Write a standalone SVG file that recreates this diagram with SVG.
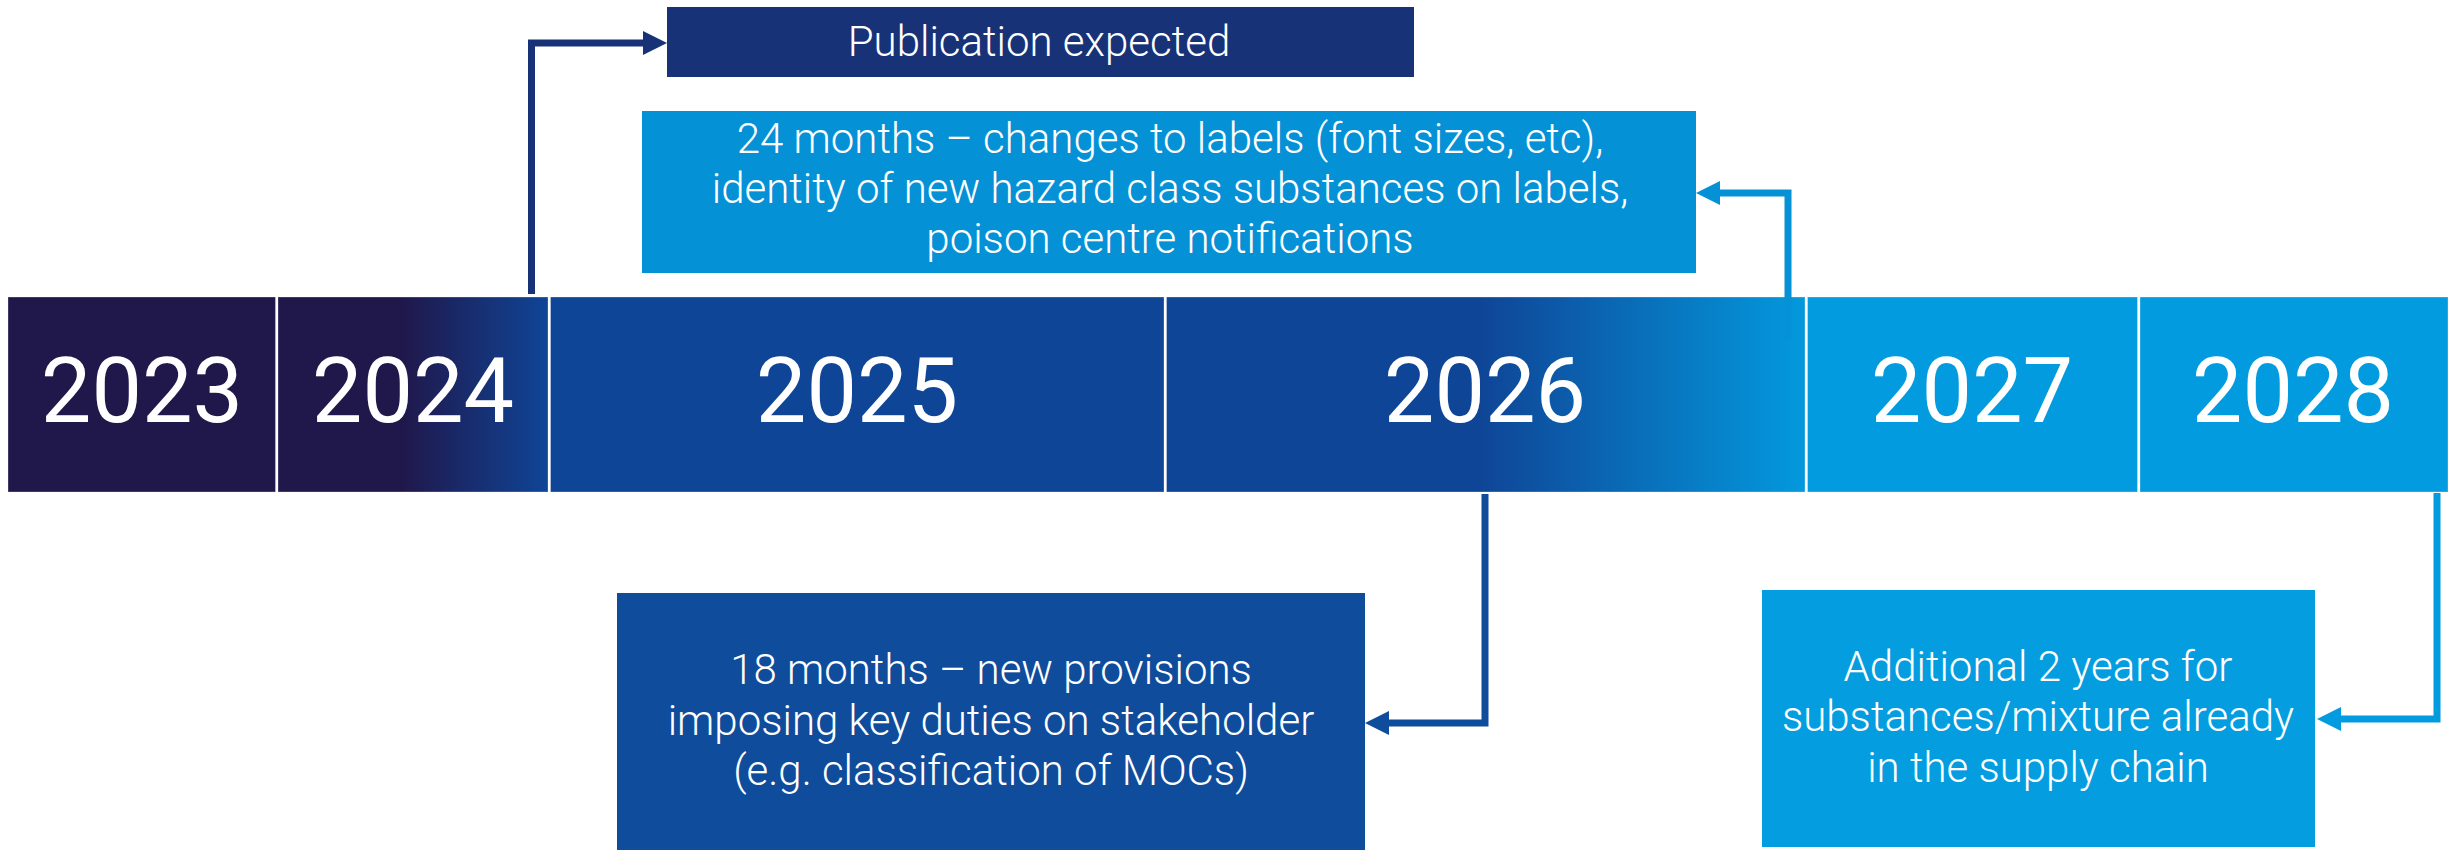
<svg xmlns="http://www.w3.org/2000/svg" width="2451" height="850" viewBox="0 0 2451 850">
  <style>
    .year { font-family: Roboto, "Liberation Sans", sans-serif; font-size: 90px; font-weight: 400; fill: #ffffff; text-anchor: middle; }
    .note { font-family: Roboto, "Liberation Sans", sans-serif; font-size: 42px; font-weight: 300; fill: #ffffff; text-anchor: middle; }
    .cell { stroke: #ffffff; stroke-opacity: 0.3; stroke-width: 1; }
    .link { fill: none; stroke-width: 7; stroke-linejoin: miter; stroke-linecap: butt; }
  </style>
  <defs>
    <linearGradient id="grad2024" gradientUnits="userSpaceOnUse" x1="400" y1="0" x2="549" y2="0">
      <stop offset="0" stop-color="#20174a"/>
      <stop offset="1" stop-color="#0f4597"/>
    </linearGradient>
    <linearGradient id="grad2026" gradientUnits="userSpaceOnUse" x1="1480" y1="0" x2="1805" y2="0">
      <stop offset="0" stop-color="#0f4597"/>
      <stop offset="1" stop-color="#0399dd"/>
    </linearGradient>
    <marker id="headNavy" viewBox="0 0 24 24" refX="6" refY="12" markerWidth="24" markerHeight="24" markerUnits="userSpaceOnUse" orient="auto">
      <path d="M0,0 L24,12 L0,24 Z" fill="#183277"/>
    </marker>
    <marker id="headSky" viewBox="0 0 24 24" refX="6" refY="12" markerWidth="24" markerHeight="24" markerUnits="userSpaceOnUse" orient="auto">
      <path d="M0,0 L24,12 L0,24 Z" fill="#0591d6"/>
    </marker>
    <marker id="headBlue" viewBox="0 0 24 24" refX="6" refY="12" markerWidth="24" markerHeight="24" markerUnits="userSpaceOnUse" orient="auto">
      <path d="M0,0 L24,12 L0,24 Z" fill="#0f4c9b"/>
    </marker>
    <marker id="headCyan" viewBox="0 0 24 24" refX="6" refY="12" markerWidth="24" markerHeight="24" markerUnits="userSpaceOnUse" orient="auto">
      <path d="M0,0 L24,12 L0,24 Z" fill="#039be0"/>
    </marker>
  </defs>

  <rect width="2451" height="850" fill="#ffffff"/>

  <!-- timeline bar -->
  <g id="year-2023">
    <rect class="cell" x="8" y="297" width="267.5" height="195" fill="#20174a"/>
    <text class="year" x="142" y="422">2023</text>
  </g>
  <g id="year-2024">
    <rect class="cell" x="278" y="297" width="270" height="195" fill="url(#grad2024)"/>
    <text class="year" x="413" y="422">2024</text>
  </g>
  <g id="year-2025">
    <rect class="cell" x="550.5" y="297" width="613.5" height="195" fill="#0f4597"/>
    <text class="year" x="857" y="422">2025</text>
  </g>
  <g id="year-2026">
    <rect class="cell" x="1166.5" y="297" width="638.5" height="195" fill="url(#grad2026)"/>
    <text class="year" x="1485" y="422">2026</text>
  </g>
  <g id="year-2027">
    <rect class="cell" x="1807.5" y="297" width="330" height="195" fill="#039be0"/>
    <text class="year" x="1972" y="422">2027</text>
  </g>
  <g id="year-2028">
    <rect class="cell" x="2140" y="297" width="308" height="195" fill="#039be0"/>
    <text class="year" x="2293" y="422">2028</text>
  </g>

  <!-- milestone boxes -->
  <g id="publication">
    <rect x="667" y="7" width="747" height="70" fill="#183277"/>
    <text class="note" x="1039" y="56">Publication expected</text>
  </g>
  <g id="months-24">
    <rect x="642" y="111" width="1054" height="162" fill="#0591d6"/>
    <text class="note" x="1170" y="153">24 months – changes to labels (font sizes, etc),</text>
    <text class="note" x="1170" y="203">identity of new hazard class substances on labels,</text>
    <text class="note" x="1170" y="253">poison centre notifications</text>
  </g>
  <g id="months-18">
    <rect x="617" y="593" width="748" height="257" fill="#0f4c9b"/>
    <text class="note" x="991" y="684">18 months – new provisions</text>
    <text class="note" x="991" y="735">imposing key duties on stakeholder</text>
    <text class="note" x="991" y="785">(e.g. classification of MOCs)</text>
  </g>
  <g id="additional-2y">
    <rect x="1762" y="590" width="553" height="257" fill="#049ddf"/>
    <text class="note" x="2038" y="681">Additional 2 years for</text>
    <text class="note" x="2038" y="731">substances/mixture already</text>
    <text class="note" x="2038" y="782">in the supply chain</text>
  </g>

  <!-- connectors -->
  <g id="connectors">
    <path class="link" stroke="#183277" d="M531.5,294 V43 H649" marker-end="url(#headNavy)"/>
    <path class="link" stroke="#0591d6" d="M1788,340 V193 H1714" marker-end="url(#headSky)"/>
    <path class="link" stroke="#0f4c9b" d="M1485,494 V723 H1383" marker-end="url(#headBlue)"/>
    <path class="link" stroke="#039be0" d="M2437,493 V719 H2335" marker-end="url(#headCyan)"/>
  </g>
</svg>
